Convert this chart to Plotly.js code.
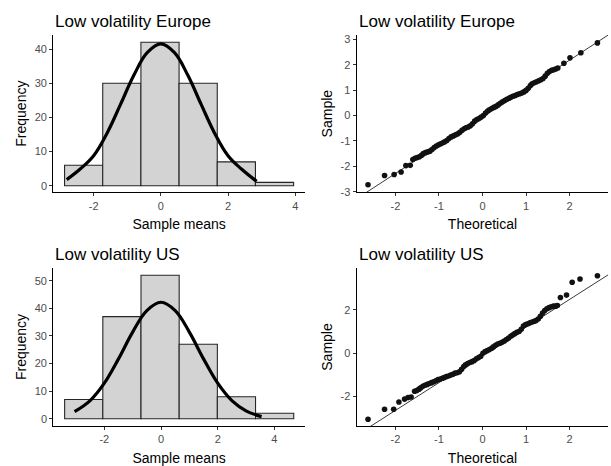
<!DOCTYPE html>
<html>
<head>
<meta charset="utf-8">
<script src="https://cdn.plot.ly/plotly-3.0.1.min.js"></script>
<style>
  html, body { margin: 0; padding: 0; background: #ffffff; }
  #chart { width: 611px; height: 466px; }
</style>
</head>
<body>
<div id="chart"></div>
<script>
// ---- Low volatility Europe: histogram of sample means ----
const euroBreaks = [-2.865, -1.729, -0.593, 0.543, 1.679, 2.815, 3.951];
const euroCounts = [6, 30, 42, 30, 7, 1];
const euroCurveX = [-2.8, -2.4, -2.0, -1.6, -1.2, -0.8, -0.4, 0, 0.4, 0.8, 1.2, 1.6, 2.0, 2.4, 2.85];
const euroCurveY = [1.8, 4.9, 8.8, 15.4, 23.8, 32.4, 39.0, 41.5, 39.0, 32.4, 23.8, 15.4, 8.8, 4.9, 1.3];

// ---- Low volatility US: histogram of sample means ----
const usBreaks = [-3.40, -2.053, -0.706, 0.641, 1.988, 3.335, 4.682];
const usCounts = [7, 37, 52, 27, 8, 2];
const usCurveX = [-3.05, -2.5, -2.0, -1.5, -1.0, -0.5, 0, 0.5, 1.0, 1.5, 2.0, 2.5, 3.0, 3.55];
const usCurveY = [2.6, 6.6, 12.9, 21.7, 31.4, 39.2, 42.2, 39.2, 31.4, 21.7, 12.9, 6.6, 2.9, 0.8];

// ---- Low volatility Europe: normal QQ points ----
const euroQQTheoretical = [
  -2.63, -2.25, -2.03, -1.87, -1.76, -1.66,
  -1.60, -1.55, -1.50, -1.45, -1.40, -1.36, -1.31, -1.26, -1.21, -1.16,
  -1.11, -1.06, -1.01, -0.96, -0.91, -0.87, -0.82, -0.77, -0.72, -0.67,
  -0.62, -0.57, -0.52, -0.47, -0.42, -0.38, -0.33, -0.28, -0.23, -0.18,
  -0.13, -0.08, -0.03, 0.02, 0.07, 0.12, 0.16, 0.21, 0.26, 0.31,
  0.36, 0.41, 0.46, 0.51, 0.56, 0.61, 0.65, 0.70, 0.75, 0.80,
  0.85, 0.90, 0.95, 1.00, 1.05, 1.10, 1.14, 1.19, 1.24, 1.29,
  1.34, 1.39, 1.44, 1.49, 1.54, 1.59, 1.63, 1.68, 1.73,
  1.87, 2.01, 2.26, 2.64
];
const euroQQSample = [
  -2.72, -2.36, -2.32, -2.22, -1.97, -1.96,
  -1.73, -1.68, -1.65, -1.62, -1.56, -1.50, -1.46, -1.43, -1.40, -1.34,
  -1.26, -1.20, -1.15, -1.11, -1.07, -1.03, -0.98, -0.90, -0.84, -0.80,
  -0.76, -0.72, -0.66, -0.58, -0.52, -0.48, -0.45, -0.40, -0.32, -0.22,
  -0.16, -0.12, -0.06, 0.00, 0.10, 0.18, 0.23, 0.28, 0.32, 0.36,
  0.42, 0.48, 0.54, 0.59, 0.64, 0.68, 0.72, 0.76, 0.79, 0.83,
  0.86, 0.89, 0.93, 0.99, 1.07, 1.18, 1.25, 1.29, 1.33, 1.37,
  1.41, 1.46, 1.55, 1.66, 1.73, 1.78, 1.80, 1.83, 1.87,
  2.06, 2.27, 2.47, 2.86
];
const euroQQLine = { intercept: -0.05, slope: 1.115 };

// ---- Low volatility US: normal QQ points ----
const usQQTheoretical = [
  -2.63, -2.25, -2.04, -1.92, -1.79, -1.71, -1.64,
  -1.56, -1.51, -1.46, -1.42, -1.37, -1.32, -1.27, -1.22, -1.17, -1.12,
  -1.07, -1.02, -0.97, -0.92, -0.88, -0.83, -0.78, -0.73, -0.68, -0.63,
  -0.58, -0.53, -0.48, -0.43, -0.39, -0.34, -0.29, -0.24, -0.19, -0.14,
  -0.09, -0.04, 0.01, 0.06, 0.11, 0.16, 0.21, 0.25, 0.30, 0.35,
  0.40, 0.45, 0.50, 0.55, 0.60, 0.65, 0.69, 0.74, 0.79, 0.84,
  0.89, 0.94, 0.99, 1.04, 1.09, 1.14, 1.19, 1.23, 1.28, 1.33,
  1.38, 1.43, 1.48, 1.53, 1.58, 1.63, 1.68, 1.72,
  1.79, 1.93, 2.06, 2.24, 2.64
];
const usQQSample = [
  -3.05, -2.59, -2.59, -2.25, -2.12, -2.05, -2.02,
  -1.76, -1.72, -1.66, -1.60, -1.53, -1.48, -1.44, -1.40, -1.36, -1.32,
  -1.27, -1.22, -1.19, -1.16, -1.12, -1.08, -1.05, -1.01, -0.97, -0.92,
  -0.90, -0.86, -0.74, -0.62, -0.54, -0.48, -0.43, -0.39, -0.34, -0.26,
  -0.20, -0.14, 0.00, 0.07, 0.12, 0.17, 0.23, 0.29, 0.36, 0.42,
  0.46, 0.50, 0.56, 0.63, 0.70, 0.78, 0.84, 0.90, 0.96, 1.00,
  1.10, 1.25, 1.32, 1.36, 1.40, 1.44, 1.47, 1.51, 1.58, 1.70,
  1.85, 1.97, 2.05, 2.10, 2.14, 2.17, 2.17, 2.20,
  2.57, 2.68, 3.27, 3.42, 3.57
];
const usQQLine = { intercept: -0.08, slope: 1.28 };

// ---- panel text ----
const panelTitles = ['Low volatility Europe', 'Low volatility Europe', 'Low volatility US', 'Low volatility US'];
const histXTicks = [-2, 0, 2, 4];
const histXTickText = ['-2', '0', '2', '4'];
const euroHistYTicks = [0, 10, 20, 30, 40];
const usHistYTicks = [0, 10, 20, 30, 40, 50];
const qqXTicks = [-2, -1, 0, 1, 2];
const qqXTickText = ['-2', '-1', '0', '1', '2'];
const euroQQYTicks = [-3, -2, -1, 0, 1, 2, 3];
const euroQQYTickText = ['-3', '-2', '-1', '0', '1', '2', '3'];
const usQQYTicks = [-2, 0, 2];
const usQQYTickText = ['-2', '0', '2'];

const FONT = '"Liberation Sans", Arial, Helvetica, sans-serif';
const W = 611, H = 466;

function histBars(breaks, counts, xa, ya) {
  const centers = counts.map((_, i) => (breaks[i] + breaks[i + 1]) / 2);
  const widths = counts.map((_, i) => breaks[i + 1] - breaks[i]);
  return {
    type: 'bar', x: centers, y: counts, width: widths,
    xaxis: xa, yaxis: ya,
    marker: { color: '#d3d3d3', line: { color: '#262626', width: 1.1 } },
    hoverinfo: 'x+y', showlegend: false
  };
}
function curve(xs, ys, xa, ya) {
  return {
    type: 'scatter', mode: 'lines', x: xs, y: ys, xaxis: xa, yaxis: ya,
    line: { color: '#000000', width: 3.2, shape: 'spline', smoothing: 1.1 },
    showlegend: false
  };
}
function qqPoints(xs, ys, xa, ya) {
  return {
    type: 'scatter', mode: 'markers', x: xs, y: ys, xaxis: xa, yaxis: ya,
    marker: { color: '#111111', size: 5.6 },
    showlegend: false
  };
}
function qqLine(fit, range, xa, ya) {
  return {
    type: 'scatter', mode: 'lines',
    x: range, y: range.map(v => fit.intercept + fit.slope * v),
    xaxis: xa, yaxis: ya,
    line: { color: '#3a3a3a', width: 1 },
    hoverinfo: 'skip', showlegend: false
  };
}

// plot-area rectangles in pixels: [left, right, top, bottom]
const boxes = [
  [53.3, 305, 35, 192.3],
  [356.7, 608.3, 35, 192.3],
  [53.3, 305, 268, 426],
  [356.7, 608.3, 268, 426]
];
const xDom = b => [b[0] / W, b[1] / W];
const yDom = b => [1 - b[3] / H, 1 - b[2] / H];

function axis(extra) {
  return Object.assign({
    showline: true, linecolor: '#000000', linewidth: 1.1,
    ticks: 'outside', ticklen: 3, tickwidth: 1, tickcolor: '#333333',
    tickfont: { family: FONT, size: 11, color: '#4d4d4d' },
    showgrid: false, zeroline: false, automargin: false, fixedrange: true
  }, extra);
}
function axTitle(text, standoff) {
  return { text: text, font: { family: FONT, size: 14, color: '#000000' }, standoff: standoff };
}

const qqRangeX = [-2.89, 2.89];

const data = [
  histBars(euroBreaks, euroCounts, 'x', 'y'),
  curve(euroCurveX, euroCurveY, 'x', 'y'),
  qqLine(euroQQLine, qqRangeX, 'x2', 'y2'),
  qqPoints(euroQQTheoretical, euroQQSample, 'x2', 'y2'),
  histBars(usBreaks, usCounts, 'x3', 'y3'),
  curve(usCurveX, usCurveY, 'x3', 'y3'),
  qqLine(usQQLine, qqRangeX, 'x4', 'y4'),
  qqPoints(usQQTheoretical, usQQSample, 'x4', 'y4')
];

const layout = {
  width: W, height: H,
  margin: { l: 0, r: 0, t: 0, b: 0 },
  paper_bgcolor: '#ffffff', plot_bgcolor: '#ffffff',
  font: { family: FONT },
  showlegend: false,
  bargap: 0,
  xaxis: axis({ domain: xDom(boxes[0]), anchor: 'y', range: [-3.2, 4.29],
    tickvals: histXTicks, ticktext: histXTickText, title: axTitle('Sample means', 8) }),
  yaxis: axis({ domain: yDom(boxes[0]), anchor: 'x', range: [-1.9, 44.1],
    tickvals: euroHistYTicks, title: axTitle('Frequency', 4) }),
  xaxis2: axis({ domain: xDom(boxes[1]), anchor: 'y2', range: qqRangeX,
    tickvals: qqXTicks, ticktext: qqXTickText, title: axTitle('Theoretical', 8) }),
  yaxis2: axis({ domain: yDom(boxes[1]), anchor: 'x2', range: [-3.02, 3.17],
    tickvals: euroQQYTicks, ticktext: euroQQYTickText, title: axTitle('Sample', 4) }),
  xaxis3: axis({ domain: xDom(boxes[2]), anchor: 'y3', range: [-3.80, 5.08],
    tickvals: histXTicks, ticktext: histXTickText, title: axTitle('Sample means', 8) }),
  yaxis3: axis({ domain: yDom(boxes[2]), anchor: 'x3', range: [-2.6, 54.6],
    tickvals: usHistYTicks, title: axTitle('Frequency', 4) }),
  xaxis4: axis({ domain: xDom(boxes[3]), anchor: 'y4', range: qqRangeX,
    tickvals: qqXTicks, ticktext: qqXTickText, title: axTitle('Theoretical', 8) }),
  yaxis4: axis({ domain: yDom(boxes[3]), anchor: 'x4', range: [-3.36, 3.93],
    tickvals: usQQYTicks, ticktext: usQQYTickText, title: axTitle('Sample', 4) }),
  annotations: panelTitles.map((t, i) => ({
    text: t, xref: 'paper', yref: 'paper',
    x: boxes[i][0] / W, xanchor: 'left',
    y: 1 - (boxes[i][2] - 13.5) / H, yanchor: 'middle',
    showarrow: false,
    font: { family: FONT, size: 17, color: '#000000' }
  }))
};

Plotly.newPlot('chart', data, layout, { displayModeBar: false, staticPlot: true });
</script>
</body>
</html>
